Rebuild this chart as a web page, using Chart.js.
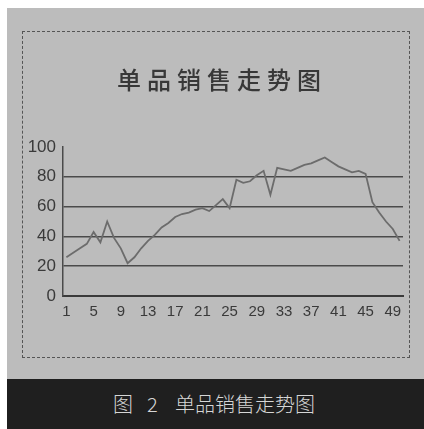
<!DOCTYPE html>
<html>
<head>
<meta charset="utf-8">
<script src="https://cdn.jsdelivr.net/npm/chart.js@4"></script>
<style>
  body { margin: 0; width: 424px; height: 429px; background: #fff; position: relative; overflow: hidden; }
  #paper { position: absolute; left: 7px; top: 8px; width: 417px; height: 371px; background: #bcbcbc; }
  #frame { position: absolute; left: 22px; top: 31px; width: 386px; height: 325px; border: 1px dashed #555; }
  #cv { position: absolute; left: 0; top: 0; }
  #caption { position: absolute; left: 7px; top: 379px; width: 417px; height: 50px; background: #1f1f1f;
    color: #d6d6d6; font: 300 20px "Noto Sans CJK SC"; line-height: 50px; }
  #caption span { position: absolute; top: 0; }
</style>
</head>
<body>
<div id="paper"></div>
<div id="frame"></div>
<canvas id="cv" width="424" height="429"></canvas>
<div id="caption"><span style="left:106px">图</span><span style="left:140px">2</span><span style="left:168px">单品销售走势图</span></div>
<script>
// 单品销售数据
var chartTitle = "单品销售走势图";
var days = ["1","2","3","4","5","6","7","8","9","10","11","12","13","14","15","16","17","18","19","20",
  "21","22","23","24","25","26","27","28","29","30","31","32","33","34","35","36","37","38","39","40",
  "41","42","43","44","45","46","47","48","49","50"];
var sales = [26, 29, 32, 35, 43, 36, 50, 39, 32, 22,
  26, 32, 37, 41, 46, 49, 53, 55, 56, 58,
  59, 57, 61, 65, 59, 78, 76, 77, 81, 84,
  68, 86, 85, 84, 86, 88, 89, 91, 93, 90,
  87, 85, 83, 84, 82, 63, 56, 50, 45, 37];
var yTicks = [0, 20, 40, 60, 80, 100];
var xTickEvery = 4; // 1,5,9...49

// 标题: 字间距较宽, 自己画
var titlePlugin = {
  id: "spacedTitle",
  afterDraw: function (chart) {
    var ctx = chart.ctx;
    ctx.save();
    ctx.font = "500 24px 'Noto Sans CJK SC'";
    ctx.fillStyle = "#383838";
    ctx.textAlign = "center";
    ctx.textBaseline = "middle";
    ctx.letterSpacing = "6px";
    ctx.fillText(chartTitle, 222, 80);
    ctx.restore();
  }
};

new Chart(document.getElementById("cv"), {
  type: "line",
  data: {
    labels: days,
    datasets: [{
      data: sales,
      borderColor: "#6c6c6c",
      borderWidth: 1.8,
      pointRadius: 0,
      tension: 0,
      fill: false
    }]
  },
  options: {
    responsive: false,
    animation: false,
    layout: { padding: { left: 14, right: 21, top: 147, bottom: 94 } },
    plugins: {
      legend: { display: false },
      tooltip: { enabled: false }
    },
    scales: {
      x: {
        offset: true,
        grid: { display: false, drawTicks: false },
        border: { color: "#3a3a3a", width: 2, dash: [2, 2] },
        ticks: {
          autoSkip: false,
          maxRotation: 0,
          padding: 7,
          color: "#3a3a3a",
          font: { family: "'Liberation Sans'", size: 15 },
          callback: function (val, i) { return i % xTickEvery === 0 ? days[i] : null; }
        },
        afterFit: function (s) { s.height = 39; }
      },
      y: {
        min: 0,
        max: 100,
        afterBuildTicks: function (s) { s.ticks = yTicks.map(function (v) { return { value: v }; }); },
        grid: {
          drawTicks: false,
          lineWidth: 1.5,
          color: function (c) {
            var v = c.tick ? c.tick.value : 0;
            return (v > 0 && v < 100) ? "#4a4a4a" : "rgba(0,0,0,0)";
          }
        },
        border: { color: "#4a4a4a", width: 1.5 },
        ticks: {
          padding: 7,
          color: "#3a3a3a",
          font: { family: "'Liberation Sans'", size: 17 }
        },
        afterFit: function (s) { s.width = 49; }
      }
    }
  },
  plugins: [titlePlugin]
});
</script>
</body>
</html>
